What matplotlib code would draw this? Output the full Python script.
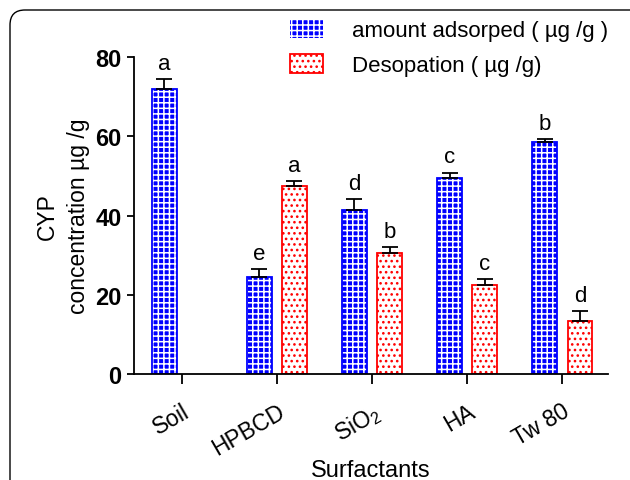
import numpy as np
import matplotlib
matplotlib.use("Agg")
import matplotlib.pyplot as plt
from matplotlib.patches import FancyBboxPatch, Patch

plt.rcParams['font.family'] = ['Liberation Sans', 'DejaVu Sans']
plt.rcParams['mathtext.default'] = 'regular'
plt.rcParams['hatch.linewidth'] = 1.1

categories = ['Soil', 'HPBCD', 'SiO$_2$', 'HA', 'Tw 80']
adsorbed = [72.0, 24.5, 41.5, 49.5, 58.5]
adsorbed_err = [2.4, 2.0, 2.8, 1.4, 0.8]
adsorbed_letters = ['a', 'e', 'd', 'c', 'b']
desorbed = [np.nan, 47.5, 30.5, 22.5, 13.5]
desorbed_err = [np.nan, 1.3, 1.5, 1.5, 2.5]
desorbed_letters = ['', 'a', 'b', 'c', 'd']

blue = '#0000ff'
red = '#ff0000'
width = 0.26
off = 0.185

fig = plt.figure(figsize=(6.3, 4.81), dpi=100)
ax = fig.add_axes([0.213, 0.220, 0.752, 0.659])

x = np.arange(len(categories))

# blue checker-ish bars
ax.bar(x - off, adsorbed, width, color=blue, edgecolor='white', hatch='+++', linewidth=0)
ax.bar(x - off, adsorbed, width, fill=False, edgecolor=blue, linewidth=1.3)
ax.errorbar(x - off, adsorbed, yerr=[np.zeros(len(x)), adsorbed_err], fmt='none',
            ecolor='black', elinewidth=1.3, capsize=6, capthick=1.3)

# red dotted bars
ax.bar(x + off, desorbed, width, color='white', edgecolor=red, hatch='...', linewidth=1.3)
ax.errorbar(x + off, desorbed, yerr=[np.zeros(len(x)), desorbed_err], fmt='none',
            ecolor='black', elinewidth=1.3, capsize=6, capthick=1.3)

for i in range(len(x)):
    ax.text(x[i] - off, adsorbed[i] + adsorbed_err[i] + 1.3, adsorbed_letters[i],
            ha='center', va='bottom', fontsize=16)
    if desorbed_letters[i]:
        ax.text(x[i] + off, desorbed[i] + desorbed_err[i] + 1.3, desorbed_letters[i],
                ha='center', va='bottom', fontsize=16)

ax.set_ylim(0, 80)
ax.set_xlim(-0.5, 4.48)
ax.set_yticks([0, 20, 40, 60, 80])
ax.set_xticks(x)
ax.set_xticklabels(categories, rotation=30, ha='right', rotation_mode='anchor', fontsize=16.5)
for lab in ax.get_yticklabels():
    lab.set_fontweight('bold')
    lab.set_fontsize(17)
ax.tick_params(axis='y', direction='out', length=5, width=1.3, pad=4)
ax.tick_params(axis='x', direction='out', length=7, width=1.3, pad=11)
ax.spines['top'].set_visible(False)
ax.spines['right'].set_visible(False)
ax.spines['left'].set_linewidth(1.3)
ax.spines['bottom'].set_linewidth(1.3)

ax.set_ylabel('CYP\nconcentration µg /g', fontsize=16.5, labelpad=4, linespacing=1.45)
ax.set_xlabel('Surfactants', fontsize=17, labelpad=0)

handles = [Patch(facecolor=blue, edgecolor='white', hatch='+++', linewidth=0),
           Patch(facecolor='white', edgecolor=red, hatch='...', linewidth=1.3)]
ax.legend(handles, ['amount adsorped ( µg /g )', 'Desopation ( µg /g)'],
          loc='upper right', bbox_to_anchor=(1.0, 1.12), frameon=False, fontsize=16,
          handlelength=1.5, handleheight=0.9, handletextpad=1.3, labelspacing=0.6,
          borderaxespad=0, borderpad=0)

frame = FancyBboxPatch((0.10, -0.3), 6.6, 4.70 + 0.3, boxstyle='round,pad=0,rounding_size=0.15',
                       transform=fig.dpi_scale_trans, fill=False, edgecolor='black',
                       linewidth=1.0, clip_on=False)
fig.patches.append(frame)

fig.savefig('out.png', dpi=100)
